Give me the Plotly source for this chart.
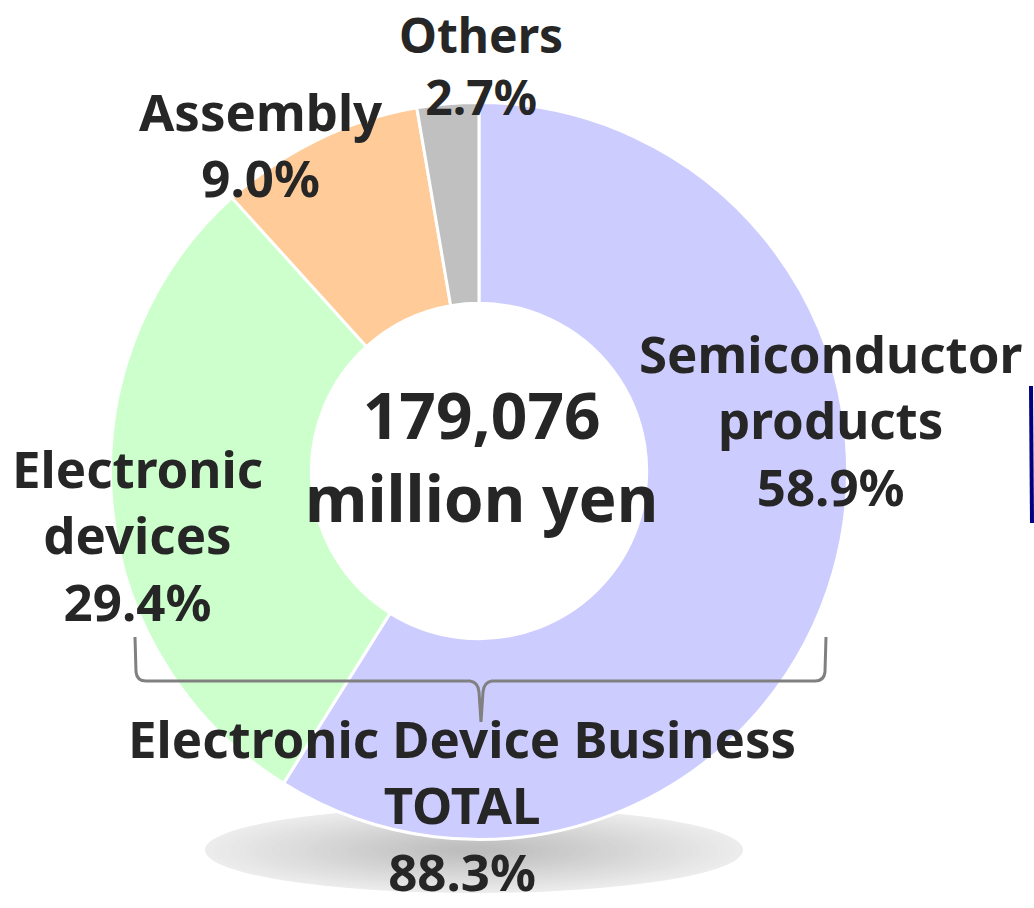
import plotly.graph_objects as go

W, H = 1034, 908

labels = ["Semiconductor products", "Electronic devices", "Assembly", "Others"]
values = [58.9, 29.4, 9.0, 2.7]
colors = ["#CCCCFF", "#CCFFCC", "#FFCC99", "#C0C0C0"]
label_texts = ["Semiconductor<br>products", "Electronic<br>devices", "Assembly", "Others"]
total_text = "179,076<br>million yen"
business_label = "Electronic Device Business<br>TOTAL"
business_share = 88.3

TXT = "#262626"
FONT = "Noto Sans"

def px(x):
    return x / W

def py(y):
    return 1 - y / H

cx, cy, R = 479, 471, 368.5

fig = go.Figure()
fig.add_trace(go.Pie(
    labels=labels, values=values, sort=False, direction="clockwise", rotation=0,
    hole=0.455, textinfo="none", hoverinfo="label+percent",
    marker=dict(colors=colors, line=dict(color="white", width=3)),
    domain=dict(x=[px(cx - R), px(cx + R)], y=[py(cy + R), py(cy - R)]),
    showlegend=False,
))

shapes = []
# soft shadow ellipse under the donut (nested ellipses approximating a radial gradient)
ecx, ecy, ea, eb = 474, 850, 269, 43
n = 30
for i in range(n):
    t = i / (n - 1)
    s = 1 - 0.9 * t
    g = int(round(236 - (236 - 190) * t))
    col = f"rgb({g},{g},{g})"
    shapes.append(dict(type="circle", xref="paper", yref="paper", layer="below",
                       x0=px(ecx - ea * s), x1=px(ecx + ea * s),
                       y0=py(ecy + eb * s), y1=py(ecy - eb * s),
                       fillcolor=col, line=dict(width=0)))

# brace
def P(x, y):
    return f"{px(x):.5f},{py(y):.5f}"

brace = ("M " + P(135, 637) + " L " + P(136, 672) + " Q " + P(137, 681) + " " + P(146, 681)
         + " L " + P(470, 681) + " Q " + P(478, 682) + " " + P(479, 692) + " L " + P(481, 722)
         + " M " + P(826, 637) + " L " + P(825, 672) + " Q " + P(824, 681) + " " + P(815, 681)
         + " L " + P(492, 681) + " Q " + P(484, 682) + " " + P(483, 692) + " L " + P(481, 722))
shapes.append(dict(type="path", xref="paper", yref="paper", path=brace, layer="above",
                   line=dict(color="#808080", width=3)))

# navy edge line at the right
shapes.append(dict(type="line", xref="paper", yref="paper", x0=px(1031), x1=px(1032),
                   y0=py(386), y1=py(523), line=dict(color="#000080", width=4)))

annotations = []

def ann(text, x, y, size=51, yanchor="middle"):
    annotations.append(dict(text=text, x=px(x), y=py(y), xref="paper", yref="paper",
                            showarrow=False, xanchor="center", yanchor=yanchor,
                            align="center",
                            font=dict(family=FONT, size=size, color=TXT, weight=700)))

ann(f"{label_texts[3]}<br>{values[3]:.1f}%", 481, 0, size=48, yanchor="top")
ann(f"{label_texts[2]}<br>{values[2]:.1f}%", 261, 144)
ann(f"{label_texts[1]}<br>{values[1]:.1f}%", 137, 534)
ann(f"{label_texts[0]}<br>{values[0]:.1f}%", 831, 419)
ann(total_text, 481, 456, size=64)
ann(f"{business_label}<br>{business_share:.1f}%", 462, H, yanchor="bottom")

fig.update_layout(
    width=W, height=H, margin=dict(l=0, r=0, t=0, b=0),
    paper_bgcolor="white", plot_bgcolor="white",
    shapes=shapes, annotations=annotations,
)

fig.write_html("out.html")
